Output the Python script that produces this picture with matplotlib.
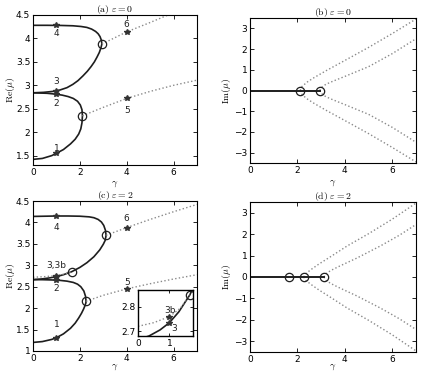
import matplotlib
matplotlib.use("Agg")
import matplotlib.pyplot as plt

plt.rcParams["mathtext.fontset"] = "cm"
plt.rcParams["font.family"] = ["DejaVu Sans"]

# ---- panel (a): eps = 0, real part ----
# lower loop: from gamma=0 up to the turning point and back
a_lo_g = [0, 0.4, 0.8, 1.0, 1.3, 1.6, 1.8, 1.95, 2.04, 2.09, 2.11,
          2.09, 2.02, 1.9, 1.72, 1.5, 1.25, 1.0, 0.6, 0]
a_lo_m = [1.42, 1.44, 1.5, 1.55, 1.63, 1.75, 1.85, 1.96, 2.07, 2.2, 2.35,
          2.48, 2.58, 2.66, 2.72, 2.76, 2.79, 2.81, 2.83, 2.84]
# upper loop
a_hi_g = [0, 0.45, 0.85, 1.15, 1.45, 1.7, 1.92, 2.13, 2.32, 2.48, 2.62, 2.73, 2.83, 2.9, 2.94,
          2.92, 2.86, 2.78, 2.67, 2.5, 2.3, 2.05, 1.7, 1.2, 0.6, 0]
a_hi_m = [2.84, 2.85, 2.87, 2.9, 2.95, 3.02, 3.1, 3.2, 3.3, 3.4, 3.5, 3.6, 3.7, 3.8, 3.88,
          3.96, 4.04, 4.1, 4.15, 4.2, 4.235, 4.255, 4.27, 4.277, 4.28, 4.28]
a_dot1_g = [2.11, 3, 4, 5, 6, 7]
a_dot1_m = [2.35, 2.53, 2.72, 2.87, 3.0, 3.11]
a_dot2_g = [2.94, 4, 5, 6, 7]
a_dot2_m = [3.88, 4.14, 4.34, 4.55, 4.75]
a_circ_g = [2.11, 2.94]
a_circ_m = [2.35, 3.88]
a_star_g = [1, 1, 1, 1, 4, 4]
a_star_m = [1.55, 2.82, 2.885, 4.28, 2.72, 4.14]
a_lab = ["1", "2", "3", "4", "5", "6"]
a_lab_m = [1.66, 2.62, 3.09, 4.1, 2.47, 4.3]

# ---- panel (b): eps = 0, imaginary part ----
b_out_g = [2.11, 2.2, 2.4, 2.7, 3.2, 4, 5, 6, 7]
b_out_im = [0, 0.2, 0.4, 0.62, 0.95, 1.45, 2.08, 2.75, 3.45]
b_in_g = [2.94, 3.02, 3.2, 3.5, 4, 5, 6, 7]
b_in_im = [0, 0.15, 0.3, 0.45, 0.68, 1.15, 1.78, 2.5]

# ---- panel (c): eps = 2, real part ----
c_lo_g = [0, 0.4, 0.8, 1.0, 1.3, 1.6, 1.8, 1.95, 2.07, 2.16, 2.22, 2.255, 2.265,
          2.24, 2.17, 2.04, 1.9, 1.72, 1.45, 1.15, 0.8, 0.4, 0]
c_lo_m = [1.2, 1.22, 1.27, 1.31, 1.4, 1.53, 1.65, 1.77, 1.88, 1.98, 2.06, 2.12, 2.16,
          2.28, 2.4, 2.5, 2.56, 2.6, 2.63, 2.648, 2.658, 2.664, 2.665]
c_hi_g = [0, 0.35, 0.7, 1.0, 1.3, 1.65, 2.0, 2.3, 2.6, 2.85, 3.0, 3.08, 3.12,
          3.09, 3.02, 2.92, 2.78, 2.6, 2.4, 2.0, 1.5, 1.0, 0.5, 0]
c_hi_m = [2.665, 2.68, 2.705, 2.735, 2.78, 2.85, 2.95, 3.06, 3.2, 3.36, 3.49, 3.58, 3.7,
          3.82, 3.93, 4.01, 4.07, 4.11, 4.13, 4.145, 4.15, 4.15, 4.145, 4.14]
c_dot3b_g = [0, 0.5, 1.0, 1.35, 1.65]
c_dot3b_m = [2.72, 2.735, 2.76, 2.795, 2.85]
c_dot1_g = [2.265, 3, 4, 5, 6, 7]
c_dot1_m = [2.16, 2.3, 2.45, 2.57, 2.68, 2.78]
c_dot2_g = [3.12, 4, 5, 6, 7]
c_dot2_m = [3.7, 3.88, 4.07, 4.25, 4.42]
c_circ_g = [1.65, 2.265, 3.12]
c_circ_m = [2.85, 2.16, 3.7]
c_star_g = [1, 1, 1, 1, 1, 4, 4]
c_star_m = [1.31, 2.657, 2.735, 2.76, 4.15, 2.45, 3.88]
c_lab = ["1", "2", "3,3b", "4", "5", "6"]
c_lab_g = [1, 1, 1, 1, 4, 4]
c_lab_m = [1.61, 2.45, 3.0, 3.87, 2.6, 4.09]

# ---- panel (d): eps = 2, imaginary part ----
d_out_g = [2.265, 2.35, 2.55, 2.9, 3.4, 4.1, 5.0, 6.0, 7]
d_out_im = [0, 0.15, 0.33, 0.6, 0.95, 1.45, 2.02, 2.7, 3.45]
d_in_g = [3.12, 3.2, 3.4, 3.8, 4.5, 5.5, 6.3, 7]
d_in_im = [0, 0.15, 0.3, 0.52, 0.88, 1.45, 1.95, 2.45]

SOLID = "#1e1e1e"
DOT = "#8a8a8a"


def style(ax, fs=6.5):
    ax.tick_params(direction="in", top=True, right=True, length=3, width=0.6,
                   labelsize=fs, pad=2)
    for s in ax.spines.values():
        s.set_linewidth(0.8)


def labels(ax, ylab, title, ylx, xly):
    ax.set_xlabel(r"$\gamma$", fontsize=7)
    ax.set_ylabel(ylab, fontsize=7)
    ax.yaxis.set_label_coords(ylx, 0.5)
    ax.xaxis.set_label_coords(0.5, xly)
    ax.set_title(title, fontsize=7, pad=2)


def circles(ax, g, m):
    ax.plot(g, m, "o", ms=6, mfc="none", mec=SOLID, mew=0.9, zorder=5)


def stars(ax, g, m):
    ax.plot(g, m, "*", ms=4, color="#333333", zorder=4)


fig = plt.figure(figsize=(4.22, 3.72), dpi=100)
ax_a = fig.add_axes([33 / 422, 1 - 165 / 372, 164 / 422, 150 / 372])
ax_b = fig.add_axes([250 / 422, 1 - 163 / 372, 166 / 422, 145 / 372])
ax_c = fig.add_axes([33 / 422, 1 - 351 / 372, 164 / 422, 150 / 372])
ax_d = fig.add_axes([250 / 422, 1 - 352 / 372, 166 / 422, 150 / 372])

# (a)
ax = ax_a
ax.plot(a_lo_g, a_lo_m, color=SOLID, lw=1.2)
ax.plot(a_hi_g, a_hi_m, color=SOLID, lw=1.2)
ax.plot(a_dot1_g, a_dot1_m, ":", color=DOT, lw=1)
ax.plot(a_dot2_g, a_dot2_m, ":", color=DOT, lw=1)
circles(ax, a_circ_g, a_circ_m)
stars(ax, a_star_g, a_star_m)
for lab, g, m in zip(a_lab, a_star_g, a_lab_m):
    ax.text(g, m, lab, fontsize=6.5, ha="center", va="center", color="#222222")
ax.set_xlim(0, 7)
ax.set_ylim(1.3, 4.5)
ax.set_xticks([0, 2, 4, 6])
ax.set_yticks([1.5, 2, 2.5, 3, 3.5, 4, 4.5])
ax.set_yticklabels(["1.5", "2", "2.5", "3", "3.5", "4", "4.5"])
labels(ax, r"$\mathrm{Re}(\mu)$", r"$\mathrm{(a)}\ \varepsilon=0$", -0.1, -0.09)
style(ax)

# (b)
ax = ax_b
for sgn in (1, -1):
    ax.plot(b_out_g, [sgn * v for v in b_out_im], ":", color=DOT, lw=1)
    ax.plot(b_in_g, [sgn * v for v in b_in_im], ":", color=DOT, lw=1)
ax.plot([0, a_circ_g[-1]], [0, 0], color=SOLID, lw=1.4)
circles(ax, a_circ_g, [0, 0])
ax.set_xlim(0, 7)
ax.set_ylim(-3.5, 3.5)
ax.set_xticks([0, 2, 4, 6])
ax.set_yticks([-3, -2, -1, 0, 1, 2, 3])
labels(ax, r"$\mathrm{Im}(\mu)$", r"$\mathrm{(b)}\ \varepsilon=0$", -0.1, -0.1)
ax.title.set_y(1.02)
style(ax)

# (c)
ax = ax_c
ax.plot(c_lo_g, c_lo_m, color=SOLID, lw=1.2)
ax.plot(c_hi_g, c_hi_m, color=SOLID, lw=1.2)
ax.plot(c_dot3b_g, c_dot3b_m, ":", color=DOT, lw=1)
ax.plot(c_dot1_g, c_dot1_m, ":", color=DOT, lw=1)
ax.plot(c_dot2_g, c_dot2_m, ":", color=DOT, lw=1)
circles(ax, c_circ_g, c_circ_m)
stars(ax, c_star_g, c_star_m)
for lab, g, m in zip(c_lab, c_lab_g, c_lab_m):
    ax.text(g, m, lab, fontsize=6.5, ha="center", va="center", color="#222222")
ax.set_xlim(0, 7)
ax.set_ylim(1, 4.5)
ax.set_xticks([0, 2, 4, 6])
ax.set_yticks([1, 1.5, 2, 2.5, 3, 3.5, 4, 4.5])
ax.set_yticklabels(["1", "1.5", "2", "2.5", "3", "3.5", "4", "4.5"])
labels(ax, r"$\mathrm{Re}(\mu)$", r"$\mathrm{(c)}\ \varepsilon=2$", -0.1, -0.07)
style(ax)

# inset of (c)
ins = fig.add_axes([138 / 422, 1 - 336 / 372, 55 / 422, 46 / 372])
ins.plot(c_hi_g, c_hi_m, color=SOLID, lw=1.2)
ins.plot(c_dot3b_g, c_dot3b_m, ":", color=DOT, lw=1)
ins.plot(c_circ_g[:1], c_circ_m[:1], "o", ms=6, mfc="none", mec=SOLID, mew=0.9)
stars(ins, c_star_g[2:4], c_star_m[2:4])
ins.text(1.03, 2.785, "3b", fontsize=6.5, ha="center", va="center", color="#222222")
ins.text(1.14, 2.71, "3", fontsize=6.5, ha="center", va="center", color="#222222")
ins.set_xlim(0, 1.75)
ins.set_ylim(2.68, 2.87)
ins.set_xticks([0, 1])
ins.set_yticks([2.7, 2.8])
style(ins)
ins.tick_params(length=2)
for s in ins.spines.values():
    s.set_linewidth(1.0)

# (d)
ax = ax_d
for sgn in (1, -1):
    ax.plot(d_out_g, [sgn * v for v in d_out_im], ":", color=DOT, lw=1)
    ax.plot(d_in_g, [sgn * v for v in d_in_im], ":", color=DOT, lw=1)
ax.plot([0, c_circ_g[-1]], [0, 0], color=SOLID, lw=1.4)
circles(ax, c_circ_g, [0, 0, 0])
ax.set_xlim(0, 7)
ax.set_ylim(-3.5, 3.5)
ax.set_xticks([0, 2, 4, 6])
ax.set_yticks([-3, -2, -1, 0, 1, 2, 3])
labels(ax, r"$\mathrm{Im}(\mu)$", r"$\mathrm{(d)}\ \varepsilon=2$", -0.1, -0.07)
style(ax)

fig.savefig("out.png", dpi=100)
plt.close(fig)
